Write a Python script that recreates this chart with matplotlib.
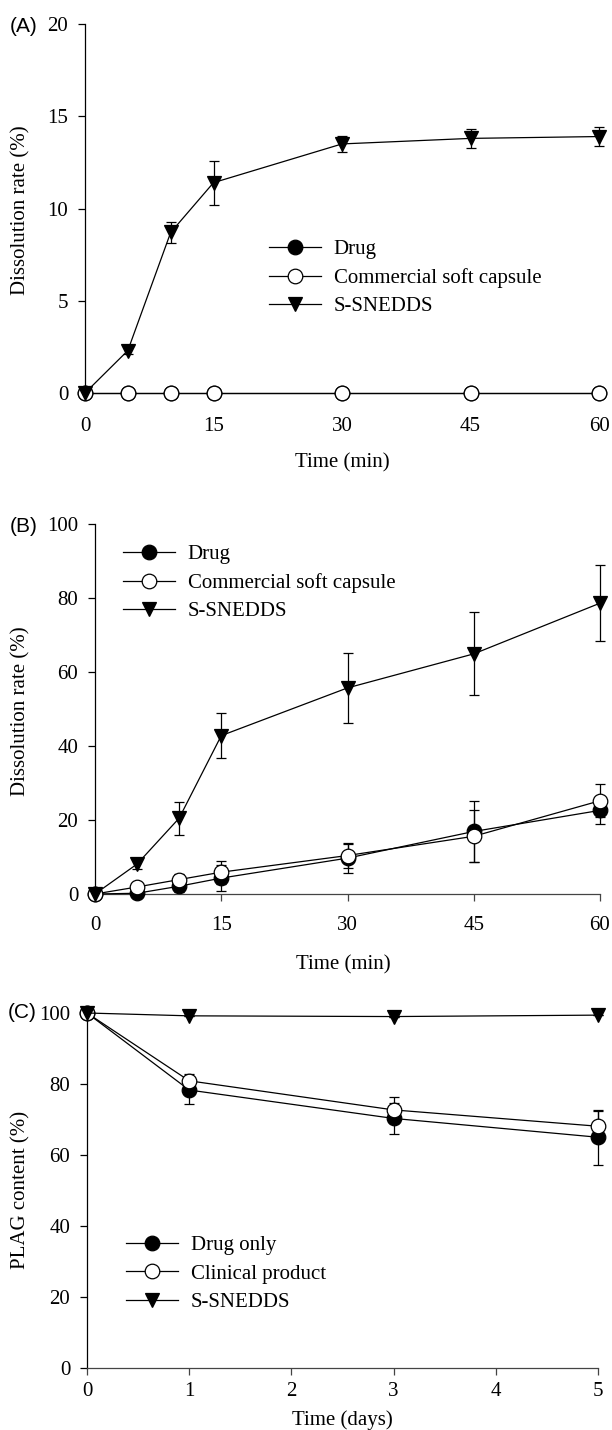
import matplotlib
matplotlib.use('Agg')
import matplotlib.pyplot as plt

# ---- data ----
time_min = [0, 5, 10, 15, 30, 45, 60]
time_days = [0, 1, 3, 5]

# (A)
a_drug = [0, 0, 0, 0, 0, 0, 0]
a_drug_err = [0, 0, 0, 0, 0, 0, 0]
a_capsule = [0, 0, 0, 0, 0, 0, 0]
a_capsule_err = [0, 0, 0, 0, 0, 0, 0]
a_snedds = [0, 2.3, 8.7, 11.4, 13.5, 13.8, 13.9]
a_snedds_err = [0, 0.2, 0.55, 1.2, 0.45, 0.5, 0.5]

# (B)
b_drug = [0, 0.2, 2.1, 4.3, 9.7, 16.9, 22.6]
b_drug_err = [0, 0, 1.5, 3.5, 3.9, 8.3, 3.7]
b_capsule = [0, 1.9, 3.9, 5.9, 10.4, 15.6, 25.2]
b_capsule_err = [0, 0, 1.5, 3.1, 3.4, 7.0, 4.5]
b_snedds = [0, 8.1, 20.5, 42.8, 55.7, 64.9, 78.6]
b_snedds_err = [0, 1.3, 4.5, 6.1, 9.4, 11.2, 10.3]

# (C)
c_drug = [100, 78.3, 70.3, 65.0]
c_drug_err = [0, 3.8, 4.3, 7.7]
c_clinical = [100, 80.9, 72.7, 68.1]
c_clinical_err = [0, 1.9, 3.7, 4.2]
c_snedds = [100, 99.2, 99.0, 99.4]
c_snedds_err = [0, 0, 0, 0]

labels_ab = ["Drug", "Commercial soft capsule", "S-SNEDDS"]
labels_c = ["Drug only", "Clinical product", "S-SNEDDS"]

SERIF = ['Liberation Serif', 'DejaVu Serif']
SANS = ['Liberation Sans', 'DejaVu Sans']
FS = 15
plt.rcParams['font.family'] = SERIF
plt.rcParams['font.size'] = FS

W, H = 612, 1430
fig = plt.figure(figsize=(W/100, H/100), dpi=100)


def px_axes(l, r, t, b):
    return fig.add_axes([l/W, 1-b/H, (r-l)/W, (b-t)/H])


def draw(ax, x, ys, errs, labels):
    styles = [('o', 'black'), ('o', 'white'), ('v', 'black')]
    handles = []
    for y, e, lab, (m, fc) in zip(ys, errs, labels, styles):
        ax.errorbar(x, y, yerr=e, fmt='none', ecolor='black', elinewidth=0.9,
                    capsize=3.8, capthick=0.9, clip_on=False, zorder=2)
        h, = ax.plot(x, y, marker=m, color='black', mfc=fc, mec='black',
                     ms=10.5, mew=0.9, lw=0.9, clip_on=False, zorder=3,
                     label=lab)
        handles.append(h)
    return handles


def style(ax, xlim, ylim, xticks, yticks, bottom=True):
    ax.set_xlim(xlim)
    ax.set_ylim(ylim)
    ax.set_xticks(xticks)
    ax.set_yticks(yticks)
    for s in ['top', 'right']:
        ax.spines[s].set_visible(False)
    ax.spines['left'].set_linewidth(0.9)
    ax.spines['bottom'].set_linewidth(0.9)
    ax.spines['bottom'].set_color('#444444')
    ax.tick_params(axis='y', direction='out', length=5, width=0.9, pad=7,
                   labelsize=FS)
    if bottom:
        ax.tick_params(axis='x', direction='out', length=5, width=0.9,
                       color='#444444', labelsize=FS)
    else:
        ax.spines['bottom'].set_visible(False)
        ax.tick_params(axis='x', length=0, labelsize=FS)


def legend(ax, handles, x, y):
    ax.legend(handles=handles, loc='center left',
              bbox_to_anchor=(x/W, 1-y/H), bbox_transform=fig.transFigure,
              frameon=False, borderpad=0, borderaxespad=0, numpoints=1,
              handlelength=2.5, handletextpad=0.6, labelspacing=0.42,
              fontsize=FS)


# ---- (A) ----
axA = px_axes(85, 599, 24, 393)
hA = draw(axA, time_min, [a_drug, a_capsule, a_snedds],
          [a_drug_err, a_capsule_err, a_snedds_err], labels_ab)
style(axA, (0, 60), (0, 20), [0, 15, 30, 45, 60], [0, 5, 10, 15, 20], bottom=False)
axA.tick_params(axis='x', pad=17)
legend(axA, hA, 269, 278)

# ---- (B) ----
axB = px_axes(95, 600, 524, 894)
hB = draw(axB, time_min, [b_drug, b_capsule, b_snedds],
          [b_drug_err, b_capsule_err, b_snedds_err], labels_ab)
style(axB, (0, 60), (0, 100), [0, 15, 30, 45, 60], [0, 20, 40, 60, 80, 100])
axB.tick_params(axis='x', pad=11)
legend(axB, hB, 123, 583)

# ---- (C) ----
axC = px_axes(87, 598, 1013, 1368)
hC = draw(axC, time_days, [c_drug, c_clinical, c_snedds],
          [c_drug_err, c_clinical_err, c_snedds_err], labels_c)
style(axC, (0, 5), (0, 100), [0, 1, 2, 3, 4, 5], [0, 20, 40, 60, 80, 100])
axC.tick_params(axis='x', pad=5)
legend(axC, hC, 126, 1274)

# ---- axis titles and panel letters ----
def ftext(x, y, s, **kw):
    fig.text(x/W, 1-y/H, s, ha='center', va='center', fontsize=FS, **kw)

ftext(21, 210, "Dissolution rate (%)", rotation=90)
ftext(21, 711, "Dissolution rate (%)", rotation=90)
ftext(21, 1190, "PLAG content (%)", rotation=90)
ftext(342, 463, "Time (min)")
ftext(343, 965, "Time (min)")
ftext(342, 1420, "Time (days)")
ftext(24, 27, "(A)", family=SANS)
ftext(24, 527, "(B)", family=SANS)
ftext(22, 1013, "(C)", family=SANS)

fig.savefig('out.png', dpi=100)
